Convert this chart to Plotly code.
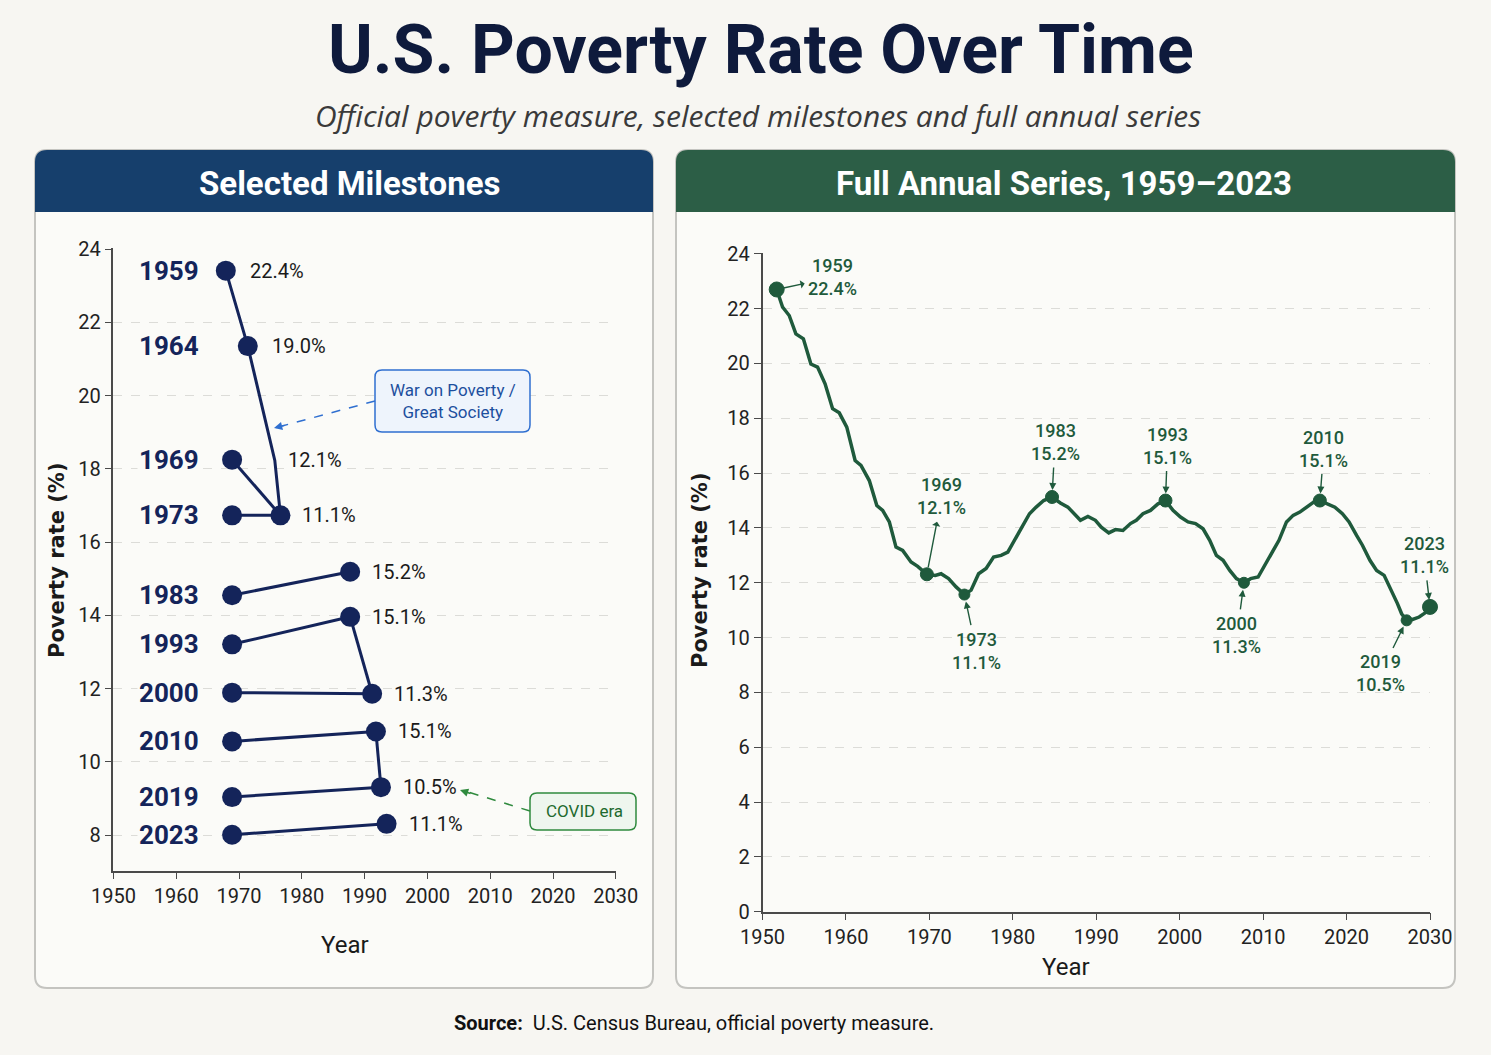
import plotly.graph_objects as go

W, H = 1491, 1055
FONT = "Roboto"
NAVY = "#14245a"
GREEN = "#1f5a3c"
PAGE_BG = "#f7f6f2"
PANEL_BG = "#fbfbf8"

# ---- Selected milestones (left panel), positions as drawn ----
ms_years = ["1959", "1964", "1969", "1973", "1983", "1993", "2000", "2010", "2019", "2023"]
ms_rates = ["22.4%", "19.0%", "12.1%", "11.1%", "15.2%", "15.1%", "11.3%", "15.1%", "10.5%", "11.1%"]
ms_left_x = [1967.9, 1971.4, 1968.9, 1968.9, 1968.9, 1968.9, 1968.9, 1968.9, 1968.9, 1968.9]
ms_left_y = [23.41, 21.35, 18.25, 16.73, 14.55, 13.21, 11.89, 10.56, 9.04, 8.01]
ms_right_x = [None, None, None, 1976.6, 1987.7, 1987.7, 1991.2, 1991.8, 1992.6, 1993.5]
ms_right_y = [None, None, None, 16.73, 15.19, 13.96, 11.86, 10.83, 9.31, 8.31]
kink_x, kink_y = 1975.7, 18.23

# ---- Full annual series (right panel), positions as drawn ----
series_x = [1951.7, 1952.4, 1953.2, 1954.0, 1954.9, 1955.8, 1956.6, 1957.5, 1958.4, 1959.2,
            1960.1, 1961.1, 1961.8, 1962.8, 1963.7, 1964.4, 1965.2, 1966.0, 1966.8, 1967.8,
            1968.6, 1969.7, 1970.7, 1971.4, 1972.3, 1973.2, 1974.2, 1975.0, 1975.9, 1976.8,
            1977.7, 1978.6, 1979.4, 1980.2, 1981.1, 1982.0, 1982.8, 1983.7, 1984.7, 1985.7,
            1986.6, 1987.4, 1988.1, 1989.0, 1989.9, 1990.6, 1991.5, 1992.3, 1993.2, 1994.1,
            1994.8, 1995.6, 1996.5, 1997.4, 1998.3, 1999.2, 2000.1, 2001.0, 2001.9, 2002.8,
            2003.6, 2004.4, 2005.2, 2006.0, 2006.8, 2007.7, 2008.5, 2009.4, 2010.1, 2011.0,
            2011.9, 2012.8, 2013.6, 2014.4, 2015.3, 2016.1, 2016.8, 2017.7, 2018.6, 2019.5,
            2020.3, 2021.2, 2021.9, 2022.8, 2023.6, 2024.5, 2025.2, 2026.1, 2026.6, 2027.2,
            2027.9, 2028.7, 2029.6, 2030.0]
series_y = [22.70, 22.06, 21.75, 21.08, 20.90, 19.98, 19.87, 19.26, 18.35, 18.20,
            17.68, 16.46, 16.28, 15.73, 14.82, 14.64, 14.22, 13.30, 13.18, 12.76,
            12.60, 12.31, 12.27, 12.33, 12.15, 11.85, 11.57, 11.73, 12.33, 12.52,
            12.94, 13.00, 13.12, 13.55, 14.03, 14.52, 14.76, 15.00, 15.13, 14.91,
            14.76, 14.52, 14.28, 14.42, 14.28, 14.03, 13.82, 13.94, 13.91, 14.16,
            14.28, 14.52, 14.64, 14.88, 15.00, 14.64, 14.40, 14.22, 14.16, 13.97,
            13.55, 13.00, 12.82, 12.45, 12.15, 12.00, 12.15, 12.21, 12.58, 13.06,
            13.55, 14.22, 14.46, 14.58, 14.76, 14.95, 15.00, 14.88, 14.76, 14.52,
            14.22, 13.73, 13.37, 12.82, 12.45, 12.27, 11.85, 11.24, 10.87, 10.63,
            10.66, 10.75, 10.94, 11.12]

hl_labels = ["1959<br>22.4%", "1969<br>12.1%", "1973<br>11.1%", "1983<br>15.2%", "1993<br>15.1%",
             "2000<br>11.3%", "2010<br>15.1%", "2019<br>10.5%", "2023<br>11.1%"]
hl_x = [1951.7, 1969.7, 1974.2, 1984.7, 1998.3, 2007.7, 2016.8, 2027.2, 2030.0]
hl_y = [22.70, 12.31, 11.57, 15.13, 15.00, 12.00, 15.00, 10.63, 11.12]
hl_size = [15, 13, 11, 13, 13, 11, 13, 11, 15]
# label offsets (pixels) and which end carries the arrow head
hl_ax = [56, 15, 12, 3, 2, -7, 4, -26, -6]
hl_ay = [-12, -78, 56, -55, -55, 52, -52, 53, -52]
hl_side = ["start", "start", "end", "end", "end", "end", "end", "end", "end"]


def X(p):
    return p / W


def Y(p):
    return 1 - p / H


def rounded(x0, y0, x1, y1, r, top_only=False):
    # pixel box (y down) -> svg path in paper coords with rounded corners
    rx, ry = r / W, r / H
    a, b, c, d = X(x0), Y(y1), X(x1), Y(y0)  # left, bottom, right, top
    p = f"M {a+rx},{d} L {c-rx},{d} Q {c},{d} {c},{d-ry} "
    if top_only:
        p += f"L {c},{b} L {a},{b} "
    else:
        p += f"L {c},{b+ry} Q {c},{b} {c-rx},{b} L {a+rx},{b} Q {a},{b} {a},{b+ry} "
    p += f"L {a},{d-ry} Q {a},{d} {a+rx},{d} Z"
    return p


def label(px, py, text, size, color, family=FONT, angle=0):
    return dict(x=X(px), y=Y(py), xref="paper", yref="paper", text=text, showarrow=False,
                xanchor="center", yanchor="middle", textangle=angle,
                font=dict(family=family, size=size, color=color))


fig = go.Figure()

# left panel connectors
lx, ly = [], []
lx += [ms_left_x[0], ms_left_x[1], kink_x, ms_right_x[3], None]
ly += [ms_left_y[0], ms_left_y[1], kink_y, ms_right_y[3], None]
lx += [ms_left_x[2], ms_right_x[3], None]
ly += [ms_left_y[2], ms_right_y[3], None]
for i in range(len(ms_years)):
    if ms_right_x[i] is not None:
        lx += [ms_left_x[i], ms_right_x[i], None]
        ly += [ms_left_y[i], ms_right_y[i], None]
lx += [ms_right_x[5], ms_right_x[6], None, ms_right_x[7], ms_right_x[8]]
ly += [ms_right_y[5], ms_right_y[6], None, ms_right_y[7], ms_right_y[8]]

fig.add_trace(go.Scatter(x=lx, y=ly, mode="lines", line=dict(color=NAVY, width=3),
                         xaxis="x", yaxis="y", hoverinfo="skip", showlegend=False))
dot_x = ms_left_x + [v for v in ms_right_x if v is not None]
dot_y = ms_left_y + [v for v in ms_right_y if v is not None]
fig.add_trace(go.Scatter(x=dot_x, y=dot_y, mode="markers",
                         marker=dict(color=NAVY, size=20, opacity=1, line=dict(width=0)),
                         xaxis="x", yaxis="y", cliponaxis=False, showlegend=False))

# right panel series
fig.add_trace(go.Scatter(x=series_x, y=series_y, mode="lines", line=dict(color=GREEN, width=3.5),
                         xaxis="x2", yaxis="y2", showlegend=False))
fig.add_trace(go.Scatter(x=hl_x, y=hl_y, mode="markers",
                         marker=dict(color=GREEN, size=hl_size, opacity=1, line=dict(width=1, color=GREEN)),
                         xaxis="x2", yaxis="y2", cliponaxis=False, showlegend=False))

ann = []
# milestone year labels and rate labels
for i, yr in enumerate(ms_years):
    ann.append(dict(x=1963.9, y=ms_left_y[i], xref="x", yref="y", text=f"<b>{yr}</b>",
                    showarrow=False, xanchor="right", yanchor="middle", bgcolor=PANEL_BG,
                    font=dict(family=FONT, size=26, color=NAVY)))
    if ms_right_x[i] is not None:
        rx, ry, sh = ms_right_x[i], ms_right_y[i], 20
    elif i == 2:
        rx, ry, sh = kink_x, ms_left_y[i], 11
    else:
        rx, ry, sh = ms_left_x[i], ms_left_y[i], 22
    ann.append(dict(x=rx, y=ry, xref="x", yref="y", text=ms_rates[i], showarrow=False,
                    xanchor="left", yanchor="middle", xshift=sh, bgcolor=PANEL_BG,
                    font=dict(family=FONT, size=20, color="#1a1a1a")))

# annual series labels
for i, t in enumerate(hl_labels):
    ann.append(dict(x=hl_x[i], y=hl_y[i], xref="x2", yref="y2", text=t, showarrow=True,
                    ax=hl_ax[i], ay=hl_ay[i], arrowside=hl_side[i], arrowhead=2, arrowsize=1,
                    arrowwidth=1.4, arrowcolor=GREEN, standoff=7, startstandoff=2,
                    font=dict(family=FONT, size=18, color=GREEN, weight=500)))

ann += [
    label(761, 50, "<b>U.S. Poverty Rate Over Time</b>", 68, "#0e1a3c"),
    label(758, 115, "<i>Official poverty measure, selected milestones and full annual series</i>",
          30, "#3a3a3a", family="Open Sans"),
    label(349, 183, "<b>Selected Milestones</b>", 33, "white"),
    label(1064, 183, "<b>Full Annual Series, 1959–2023</b>", 33, "white"),
    label(694, 1023, "<b>Source:</b>  U.S. Census Bureau, official poverty measure.", 20, "#111111"),
    label(57, 560, "<b>Poverty rate (%)</b>", 21, "#1a1a1a", family="DejaVu Sans", angle=-90),
    label(700, 570, "<b>Poverty rate (%)</b>", 21, "#1a1a1a", family="DejaVu Sans", angle=-90),
    label(345, 945, "Year", 24, "#1a1a1a"),
    label(1066, 967, "Year", 24, "#1a1a1a"),
    label(453, 401, "War on Poverty /<br>Great Society", 17, "#1d4f9e"),
    label(584, 811, "COVID era", 17, "#1e6a2e"),
    # arrow heads for the dashed callout lines
    dict(x=X(274), y=Y(428), xref="paper", yref="paper", text="", showarrow=True, ax=12, ay=-3,
         arrowhead=2, arrowsize=1.1, arrowwidth=1.5, arrowcolor="#2f6fd0"),
    dict(x=X(460), y=Y(790), xref="paper", yref="paper", text="", showarrow=True, ax=12, ay=4,
         arrowhead=2, arrowsize=1.1, arrowwidth=1.5, arrowcolor="#2f8a3e"),
]

shapes = [
    dict(type="path", path=rounded(35, 150, 653, 988, 12), xref="paper", yref="paper",
         fillcolor=PANEL_BG, line=dict(color="#c4c4c0", width=2), layer="below"),
    dict(type="path", path=rounded(676, 150, 1455, 988, 12), xref="paper", yref="paper",
         fillcolor=PANEL_BG, line=dict(color="#c4c4c0", width=2), layer="below"),
    dict(type="path", path=rounded(35, 150, 653, 212, 12, top_only=True), xref="paper", yref="paper",
         fillcolor="#163f6c", line=dict(width=0), layer="below"),
    dict(type="path", path=rounded(676, 150, 1455, 212, 12, top_only=True), xref="paper", yref="paper",
         fillcolor="#2c5e46", line=dict(width=0), layer="below"),
    dict(type="path", path=rounded(375, 370, 530, 432, 7), xref="paper", yref="paper",
         fillcolor="#eef4fc", line=dict(color="#2f6fd0", width=1.5)),
    dict(type="path", path=rounded(530, 793, 636, 830, 7), xref="paper", yref="paper",
         fillcolor="#eef6ee", line=dict(color="#2f8a3e", width=1.5)),
    dict(type="line", x0=X(375), y0=Y(401), x1=X(282), y1=Y(426), xref="paper", yref="paper",
         line=dict(color="#2f6fd0", width=1.5, dash="dash")),
    dict(type="line", x0=X(530), y0=Y(811), x1=X(468), y1=Y(792), xref="paper", yref="paper",
         line=dict(color="#2f8a3e", width=1.5, dash="dash")),
]

tickfont = dict(family=FONT, size=20, color="#222222")
axis_common = dict(showline=True, linecolor="#4a4a4a", linewidth=1.5, ticks="outside", ticklen=7,
                   tickcolor="#4a4a4a", tickfont=tickfont, zeroline=False, automargin=False)

fig.update_layout(
    width=W, height=H,
    autosize=False,
    margin=dict(l=0, r=0, t=0, b=0, pad=0),
    paper_bgcolor=PAGE_BG,
    plot_bgcolor="rgba(0,0,0,0)",
    showlegend=False,
    annotations=ann,
    shapes=shapes,
    xaxis=dict(domain=[X(113.4), X(615.8)], range=[1950, 2030], tickvals=list(range(1950, 2031, 10)),
               showgrid=False, anchor="y", **axis_common),
    yaxis=dict(domain=[Y(870.7), Y(248.3)], range=[7.03, 24.02], tickvals=list(range(8, 25, 2)),
               showgrid=True, gridcolor="#dcdcd8", griddash="dash", gridwidth=1, anchor="x",
               **axis_common),
    xaxis2=dict(domain=[X(762.5), X(1430)], range=[1950, 2030], tickvals=list(range(1950, 2031, 10)),
                showgrid=False, anchor="y2", **axis_common),
    yaxis2=dict(domain=[Y(911.7), Y(253.3)], range=[0, 24.02], tickvals=list(range(0, 25, 2)),
                showgrid=True, gridcolor="#dcdcd8", griddash="dash", gridwidth=1, anchor="x2",
                **axis_common),
)

fig.write_html("out.html", config={"displayModeBar": False},
               post_script="document.body.style.margin='0px';")
